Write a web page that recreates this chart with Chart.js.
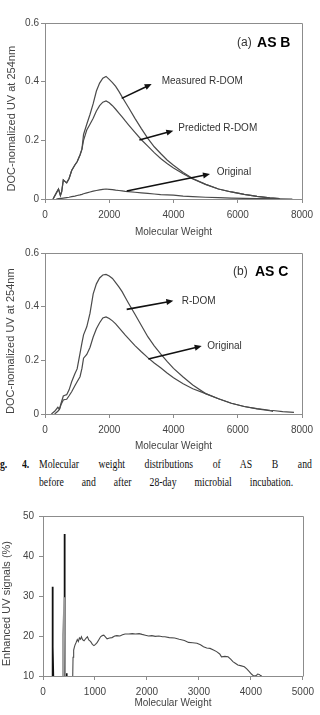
<!DOCTYPE html>
<html>
<head>
<meta charset="utf-8">
<script src="https://cdn.jsdelivr.net/npm/chart.js@4.4.0/dist/chart.umd.min.js"></script>
<style>
    html, body { margin: 0; padding: 0; background: #fff; }
    body { position: relative; width: 320px; height: 715px; overflow: hidden; }
    canvas { position: absolute; left: 0; }
    #chartA { top: 0; }
    #chartB { top: 240px; }
    #chartC { top: 495px; }
    .cap {
        position: absolute;
        font-family: "Liberation Serif", "Times New Roman", serif;
        font-size: 13.5px;
        line-height: 13.5px;
        color: #111;
        transform: scaleX(0.72);
        transform-origin: 0 0;
    }
    .just { text-align: justify; text-align-last: justify; }
</style>
</head>
<body>
<canvas id="chartA" width="320" height="240"></canvas>
<canvas id="chartB" width="320" height="215"></canvas>
<div class="cap" style="left:0;top:457px;font-weight:bold">g.</div>
<div class="cap" style="left:22px;top:457px;font-weight:bold">4.</div>
<div class="cap just" style="left:39px;top:457px;width:379px">Molecular weight distributions of AS B and</div>
<div class="cap just" style="left:39px;top:475px;width:353px">before and after 28-day microbial incubation.</div>
<canvas id="chartC" width="320" height="220"></canvas>

<script>
// (a) AS B - molecular weight grid and the three curves
const mwA = [250, 350, 420, 480, 520, 570, 620, 675, 750, 830, 930, 1000, 1090, 1150, 1200, 1300, 1400, 1500, 1600, 1700,
    1800, 1900, 2000, 2100, 2200, 2300, 2400, 2500, 2600, 2800, 3000, 3200, 3400, 3600, 3800, 4000, 4300, 4600, 5000, 5400,
    5800, 6200, 6600, 7000, 7300, 7700];
const measuredA = [0, 0.02, 0.034, 0.012, 0.025, 0.065, 0.06, 0.055, 0.07, 0.097, 0.116, 0.127, 0.15, 0.17, 0.22, 0.255, 0.288, 0.325, 0.368, 0.395,
    0.412, 0.418, 0.408, 0.397, 0.384, 0.367, 0.348, 0.33, 0.312, 0.275, 0.24, 0.207, 0.178, 0.155, 0.133, 0.115, 0.09, 0.07, 0.05, 0.034,
    0.024, 0.016, 0.009, 0.004, 0.001, null];
const predictedA = [0, 0.02, 0.034, 0.012, 0.025, 0.065, 0.06, 0.055, 0.07, 0.097, 0.116, 0.127, 0.15, 0.17, 0.2, 0.235, 0.255, 0.275, 0.3, 0.318,
    0.33, 0.334, 0.328, 0.318, 0.306, 0.293, 0.28, 0.266, 0.253, 0.227, 0.202, 0.18, 0.158, 0.138, 0.121, 0.106, 0.086, 0.068, 0.05, 0.034,
    0.024, 0.016, 0.009, 0.004, 0.001, null];
const originalA = [null, 0, 0.001, 0.002, 0.002, 0.003, 0.004, 0.005, 0.006, 0.008, 0.01, 0.012, 0.014, 0.016, 0.018, 0.021, 0.024, 0.027, 0.029, 0.031,
    0.033, 0.034, 0.033, 0.032, 0.03, 0.029, 0.028, 0.026, 0.025, 0.023, 0.021, 0.019, 0.017, 0.015, 0.014, 0.013, 0.01, 0.008, 0.006, 0.0045,
    0.003, 0.002, 0.0015, 0.001, 0.0005, 0];

// (b) AS C
const mwB = [200, 300, 400, 450, 500, 570, 620, 675, 750, 830, 930, 1000, 1090, 1150, 1200, 1300, 1400, 1500, 1600, 1700,
    1800, 1900, 2000, 2100, 2200, 2300, 2400, 2500, 2600, 2800, 3000, 3200, 3400, 3600, 3800, 4000, 4300, 4600, 5000, 5400,
    5800, 6200, 6600, 7000, 7100, 7400, 7750];
const rdomB = [0, 0.01, 0.025, 0.018, 0.04, 0.067, 0.07, 0.072, 0.09, 0.12, 0.15, 0.168, 0.226, 0.265, 0.295, 0.325, 0.375, 0.448, 0.485, 0.507,
    0.518, 0.52, 0.514, 0.505, 0.49, 0.474, 0.456, 0.434, 0.413, 0.372, 0.33, 0.288, 0.254, 0.224, 0.196, 0.17, 0.138, 0.108, 0.076, 0.057,
    0.04, 0.028, 0.019, 0.012, 0.01, null, null];
const originalB = [null, 0, 0.01, 0.018, 0.035, 0.052, 0.054, 0.055, 0.068, 0.083, 0.105, 0.12, 0.139, 0.17, 0.208, 0.222, 0.248, 0.287, 0.318, 0.34,
    0.358, 0.362, 0.356, 0.347, 0.336, 0.322, 0.308, 0.294, 0.281, 0.255, 0.232, 0.21, 0.19, 0.172, 0.153, 0.135, 0.113, 0.094, 0.076, 0.057,
    0.04, 0.028, 0.02, 0.014, 0.013, 0.009, 0.006];

// enhanced UV signals (%)
const mwSpikes = [175, 180, 186, 192, 198, 400, 405, 413, 420, 445, 450, 453, 458];
const spikesC = [10, 32.3, 11.5, 17.3, 10, null, 10, 45.5, 10, null, 10, 10.7, 10];
const mwGray = [380, 383, 413, 426];
const grayC = [10, 20.3, 29.7, 10];
const mwCurve = [572, 578, 590, 605, 620, 635, 660, 680, 700, 720, 740, 760, 790, 830, 855, 880, 918, 950, 981, 1010,
    1044, 1080, 1107, 1140, 1170, 1200, 1233, 1280, 1327, 1380, 1421, 1480, 1530, 1579, 1650, 1718, 1780, 1850, 1906, 1969,
    2030, 2094, 2160, 2230, 2300, 2345, 2430, 2533, 2620, 2721, 2800, 2880, 2962, 3030, 3088, 3150, 3214, 3280, 3340, 3400,
    3434, 3500, 3560, 3610, 3654, 3700, 3749, 3800, 3874, 3920, 3969, 4010, 4044, 4080, 4110, 4130, 4160, 4187, 4210];
const curveC = [10, 14.7, 16.5, 17.3, 17.9, 18.3, 19.1, 18.6, 19.5, 19.2, 19.8, 19.1, 18.8, 19.5, 19.8, 19.0, 18.6, 17.9, 17.6, 17.9,
    18.4, 19.2, 19.8, 20.1, 20.2, 19.8, 19.3, 19.5, 19.6, 20.0, 20.1, 20.0, 20.3, 20.5, 20.5, 20.6, 20.5, 20.6, 20.4, 20.2,
    20.0, 20.1, 19.9, 20.0, 19.8, 19.8, 19.6, 19.5, 19.2, 18.9, 18.4, 18.3, 18.2, 17.8, 17.3, 17.0, 16.9, 16.5, 16.1, 15.5,
    14.8, 14.9, 14.8, 14.2, 13.6, 13.2, 12.75, 12.6, 12.3, 11.8, 11.1, 10.5, 10.1, 10.0, 10.2, 10.5, 10.4, 10.1, 10];

// tick labels
const xTicksAB = [0, 2000, 4000, 6000, 8000];
const yTicksAB = [0, 0.2, 0.4, 0.6];
const xTicksC = [0, 1000, 2000, 3000, 4000, 5000];
const yTicksC = [10, 20, 30, 40, 50];

const FONT = '"Liberation Sans", Arial, sans-serif';
const AXIS = '#8c8c8c';
const LABEL = '#444';
const LINE = '#4a4a4a';
// trailing no-break spaces nudge the rotated titles down a little, as in the scan
const NUDGE = '\u00a0\u00a0\u00a0\u00a0\u00a0';

function pts(xs, ys) {
    return xs.map((x, i) => ({ x: x, y: ys[i] }));
}

function line(data, color, width) {
    return { data: data, borderColor: color, borderWidth: width, pointRadius: 0, fill: false, tension: 0, spanGaps: false };
}

// frame on top/right plus arrows and labels placed in data units
const notesPlugin = {
    id: 'notes',
    afterDraw(chart, args, opts) {
        const { ctx, chartArea: a, scales } = chart;
        const sx = scales.x, sy = scales.y;
        ctx.save();
        ctx.strokeStyle = AXIS;
        ctx.lineWidth = 1;
        const l = Math.round(a.left) + 0.5, t = Math.round(a.top) + 0.5;
        const r = Math.round(a.right) + 0.5, b = Math.round(a.bottom) + 0.5;
        ctx.beginPath();
        ctx.moveTo(l, t);
        ctx.lineTo(r, t);
        ctx.lineTo(r, b);
        ctx.stroke();

        ctx.strokeStyle = '#111';
        ctx.fillStyle = '#111';
        ctx.lineWidth = 1.6;
        (opts.arrows || []).forEach(function(ar) {
            const x1 = sx.getPixelForValue(ar[0]), y1 = sy.getPixelForValue(ar[1]);
            const x2 = sx.getPixelForValue(ar[2]), y2 = sy.getPixelForValue(ar[3]);
            const ang = Math.atan2(y2 - y1, x2 - x1);
            const c = Math.cos(ang), s = Math.sin(ang);
            ctx.beginPath();
            ctx.moveTo(x1, y1);
            ctx.lineTo(x2 - 5 * c, y2 - 5 * s);
            ctx.stroke();
            ctx.beginPath();
            ctx.moveTo(x2, y2);
            ctx.lineTo(x2 - 7 * c + 3 * s, y2 - 7 * s - 3 * c);
            ctx.lineTo(x2 - 7 * c - 3 * s, y2 - 7 * s + 3 * c);
            ctx.closePath();
            ctx.fill();
        });

        ctx.textBaseline = 'middle';
        ctx.textAlign = 'left';
        (opts.texts || []).forEach(function(n) {
            ctx.font = n.font;
            ctx.fillStyle = n.color || '#333';
            ctx.fillText(n.text, sx.getPixelForValue(n.x), sy.getPixelForValue(n.y));
        });
        ctx.restore();
    }
};

function scales(o) {
    return {
        x: {
            type: 'linear', min: o.xTicks[0], max: o.xTicks[o.xTicks.length - 1],
            afterBuildTicks: s => { s.ticks = o.xTicks.map(v => ({ value: v })); },
            afterFit: s => { s.height = o.xHeight; },
            border: { color: AXIS, width: 1 },
            grid: { drawOnChartArea: false, drawTicks: true, tickLength: 4, color: AXIS },
            ticks: { font: { family: FONT, size: 10 }, color: LABEL, padding: 6, maxRotation: 0, callback: v => String(v) },
            title: { display: true, text: 'Molecular Weight', font: { family: FONT, size: o.xTitleSize }, color: LABEL, padding: 0 }
        },
        y: {
            type: 'linear', min: o.yTicks[0], max: o.yTicks[o.yTicks.length - 1],
            afterBuildTicks: s => { s.ticks = o.yTicks.map(v => ({ value: v })); },
            afterFit: s => { s.width = o.yWidth; },
            border: { color: AXIS, width: 1 },
            grid: { drawOnChartArea: false, drawTicks: true, tickLength: 4, color: AXIS },
            ticks: { font: { family: FONT, size: 10 }, color: LABEL, padding: o.yPad, callback: v => String(v) },
            title: { display: true, text: o.yTitle + NUDGE, font: { family: FONT, size: 11 }, color: LABEL, padding: { top: o.yTitlePad, bottom: 0 } }
        }
    };
}

document.addEventListener('DOMContentLoaded', function() {
    new Chart(document.getElementById('chartA').getContext('2d'), {
        type: 'line',
        data: {
            datasets: [
                line(pts(mwA, originalA), LINE, 1.2),
                line(pts(mwA, predictedA), LINE, 1.2),
                line(pts(mwA, measuredA), LINE, 1.2)
            ]
        },
        options: {
            responsive: false,
            animation: false,
            layout: { padding: { left: 0, right: 18, top: 23, bottom: 2 } },
            scales: scales({ xTicks: xTicksAB, yTicks: yTicksAB, xHeight: 39, yWidth: 45, yPad: 2, yTitlePad: 5, xTitleSize: 10,
                yTitle: 'DOC-nomalized UV at 254nm' }),
            plugins: {
                legend: { display: false },
                tooltip: { enabled: false },
                notes: {
                    texts: [
                        { text: '(a)', x: 5977, y: 0.532, font: '12px ' + FONT },
                        { text: 'AS B', x: 6600, y: 0.532, font: 'bold 14px ' + FONT, color: '#000' },
                        { text: 'Measured R-DOM', x: 3632, y: 0.402, font: '10px ' + FONT },
                        { text: 'Predicted R-DOM', x: 4150, y: 0.241, font: '10px ' + FONT },
                        { text: 'Original', x: 5344, y: 0.091, font: '10px ' + FONT }
                    ],
                    arrows: [
                        [2387, 0.343, 3321, 0.392],
                        [2937, 0.201, 3995, 0.233],
                        [2543, 0.027, 5136, 0.085]
                    ]
                }
            }
        },
        plugins: [notesPlugin]
    });

    new Chart(document.getElementById('chartB').getContext('2d'), {
        type: 'line',
        data: {
            datasets: [
                line(pts(mwB, originalB), LINE, 1.2),
                line(pts(mwB, rdomB), LINE, 1.2)
            ]
        },
        options: {
            responsive: false,
            animation: false,
            layout: { padding: { left: 0, right: 18, top: 13, bottom: 3 } },
            scales: scales({ xTicks: xTicksAB, yTicks: yTicksAB, xHeight: 38, yWidth: 45, yPad: 2, yTitlePad: 4, xTitleSize: 10,
                yTitle: 'DOC-nomalized UV at 254nm' }),
            plugins: {
                legend: { display: false },
                tooltip: { enabled: false },
                notes: {
                    texts: [
                        { text: '(b)', x: 5852, y: 0.529, font: '12px ' + FONT },
                        { text: 'AS C', x: 6537, y: 0.529, font: 'bold 14px ' + FONT, color: '#000' },
                        { text: 'R-DOM', x: 4255, y: 0.421, font: '10px ' + FONT },
                        { text: 'Original', x: 5053, y: 0.253, font: '10px ' + FONT }
                    ],
                    arrows: [
                        [2543, 0.39, 3995, 0.422],
                        [3216, 0.205, 4877, 0.253]
                    ]
                }
            }
        },
        plugins: [notesPlugin]
    });

    new Chart(document.getElementById('chartC').getContext('2d'), {
        type: 'line',
        data: {
            datasets: [
                line(pts(mwCurve, curveC), LINE, 1.1),
                line(pts(mwGray, grayC), '#9a9a9a', 1.6),
                line(pts(mwSpikes, spikesC), '#111', 1.8)
            ]
        },
        options: {
            responsive: false,
            animation: false,
            layout: { padding: { left: 0, right: 12, top: 21, bottom: 6 } },
            scales: scales({ xTicks: xTicksC, yTicks: yTicksC, xHeight: 33, yWidth: 43, yPad: 5, yTitlePad: 0, xTitleSize: 10,
                yTitle: 'Enhanced UV signals (%)' }),
            plugins: {
                legend: { display: false },
                tooltip: { enabled: false },
                notes: {}
            }
        },
        plugins: [notesPlugin]
    });
});
</script>
</body>
</html>
